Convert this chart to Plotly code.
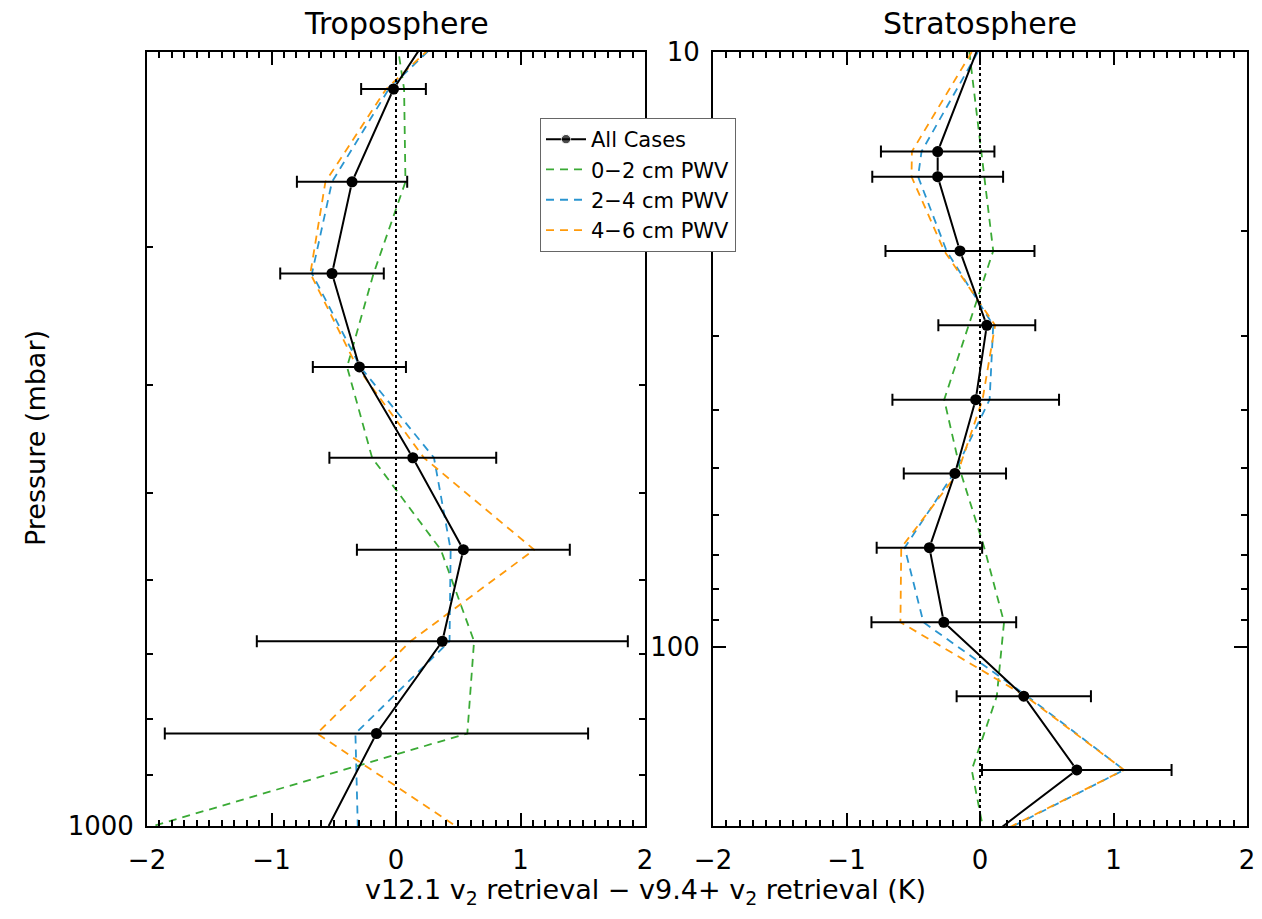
import plotly.graph_objects as go

# Temperature-difference profile (v12.1 minus v9.4+ v2 retrievals) on a shared pressure grid
pressure = [10, 14.7, 16.2, 21.6, 28.8, 38.4, 51.1, 68.1, 90.9, 121, 161, 200,
            216, 262, 317, 385, 465, 563, 681, 825, 1000]
all_cases = [-0.027, -0.317, -0.317, -0.150, 0.051, -0.032, -0.188, -0.379, -0.271, 0.328, 0.725, 0.18,
             -0.02, -0.353, -0.514, -0.294, 0.135, 0.541, 0.372, -0.157, -0.541]
all_cases_err = [None, 0.425, 0.49, 0.558, 0.363, 0.624, 0.383, 0.395, 0.542, 0.503, 0.71, None,
                 0.26, 0.443, 0.416, 0.374, 0.67, 0.855, 1.49, 1.70, None]
pwv_0_2 = [-0.08, 0.011, 0.032, 0.099, -0.085, -0.268, -0.142, 0.032, 0.18, 0.126, -0.062, 0.02,
           0.065, 0.076, -0.18, -0.393, -0.192, 0.36, 0.627, 0.573, -1.95]
pwv_2_4 = [-0.016, -0.438, -0.464, -0.25, 0.099, 0.072, -0.196, -0.564, -0.424, 0.354, 1.079, 0.25,
           -0.058, -0.514, -0.675, -0.286, 0.305, 0.439, 0.43, -0.326, -0.307]
pwv_4_6 = [-0.062, -0.51, -0.513, -0.268, 0.113, 0.019, -0.169, -0.59, -0.596, 0.341, 1.079, 0.24,
           -0.079, -0.567, -0.688, -0.313, 0.224, 1.11, 0.117, -0.635, 0.48]

panel_titles = ["Troposphere", "Stratosphere"]
x_title = "v12.1 v<sub>2</sub> retrieval \u2212 v9.4+ v<sub>2</sub> retrieval (K)"
y_title = "Pressure (mbar)"

FONT = "DejaVu Sans"
W, H = 1262, 919
TICK_FONT = dict(family=FONT, size=26, color="black")

series = [
    ("0\u22122 cm PWV", pwv_0_2, "#3aaa35"),
    ("2\u22124 cm PWV", pwv_2_4, "#2a95d0"),
    ("4\u22126 cm PWV", pwv_4_6, "#ff9a0a"),
]

marked = [i for i, e in enumerate(all_cases_err) if e is not None]
marker_sizes = [11 if e is not None else 0 for e in all_cases_err]

fig = go.Figure()

for k, (xa, ya) in enumerate([("x", "y"), ("x2", "y2")]):
    first = k == 0
    for rank, (name, vals, col) in enumerate(series, start=2):
        fig.add_trace(go.Scatter(
            x=vals, y=pressure, mode="lines", name=name,
            line=dict(color=col, width=1.8, dash="8px,6px"),
            xaxis=xa, yaxis=ya, showlegend=first, legendrank=rank,
        ))
    fig.add_trace(go.Scatter(
        x=all_cases, y=pressure, mode="lines+markers", name="All Cases",
        line=dict(color="black", width=2),
        marker=dict(color="black", size=marker_sizes),
        xaxis=xa, yaxis=ya, showlegend=first, legendrank=1,
    ))
    fig.add_trace(go.Scatter(
        x=[all_cases[i] for i in marked], y=[pressure[i] for i in marked],
        mode="markers", marker=dict(color="black", size=11),
        error_x=dict(type="data", array=[all_cases_err[i] for i in marked],
                     color="black", thickness=2, width=6),
        xaxis=xa, yaxis=ya, showlegend=False,
    ))
    # zero reference line
    fig.add_shape(type="line", xref=xa, yref=f"{ya} domain", x0=0, x1=0, y0=0, y1=1,
                  line=dict(color="black", width=2, dash="dot"))

x_common = dict(
    range=[-2, 2], dtick=1, tick0=0, ticks="inside", ticklen=13, tickwidth=2,
    tickcolor="black", showline=True, linecolor="black", linewidth=2,
    mirror="ticks", showgrid=False, zeroline=False, tickfont=TICK_FONT,
    ticklabelstandoff=10, automargin=False,
    minor=dict(dtick=0.1, ticks="inside", ticklen=6, tickwidth=1.5, tickcolor="black", showgrid=False),
)
y_common = dict(
    type="log", ticks="inside", ticklen=13, tickwidth=2, tickcolor="black",
    showline=True, linecolor="black", linewidth=2, mirror="ticks",
    showgrid=False, zeroline=False, tickfont=TICK_FONT, ticklabelstandoff=6,
    automargin=False,
)

dom_left = [147 / W, 645 / W]
dom_right = [713 / W, 1247 / W]
dom_y = [1 - 826 / H, 1 - 52 / H]

fig.update_layout(
    template="none",
    width=W, height=H,
    margin=dict(l=0, r=0, t=0, b=0, autoexpand=False),
    paper_bgcolor="white", plot_bgcolor="white",
    font=dict(family=FONT, color="black"),
    xaxis=dict(domain=dom_left, anchor="y", **x_common),
    xaxis2=dict(domain=dom_right, anchor="y2", **x_common),
    yaxis=dict(domain=dom_y, anchor="x", range=[3, 2.30103],
               tickmode="array", tickvals=[1000], ticktext=["1000"],
               minor=dict(tickmode="array", tickvals=[300, 400, 500, 600, 700, 800, 900],
                          ticks="inside", ticklen=6, tickwidth=1.5, tickcolor="black", showgrid=False),
               **y_common),
    yaxis2=dict(domain=dom_y, anchor="x2", range=[2.30103, 1],
                tickmode="array", tickvals=[10, 100], ticktext=["10", "100"],
                minor=dict(tickmode="array", tickvals=[20, 30, 40, 50, 60, 70, 80, 90, 200],
                           ticks="inside", ticklen=6, tickwidth=1.5, tickcolor="black", showgrid=False),
                **y_common),
    legend=dict(
        x=540 / W, y=1 - 118 / H, xanchor="left", yanchor="top",
        bgcolor="white", bordercolor="#666666", borderwidth=1,
        font=dict(family=FONT, size=21, color="black"),
        tracegroupgap=0, itemwidth=40,
    ),
    showlegend=True,
)

annotations = [
    dict(text=panel_titles[0], x=396 / W, y=1 - 24 / H, xref="paper", yref="paper",
         xanchor="center", yanchor="middle", showarrow=False, font=dict(family=FONT, size=30)),
    dict(text=panel_titles[1], x=980 / W, y=1 - 24 / H, xref="paper", yref="paper",
         xanchor="center", yanchor="middle", showarrow=False, font=dict(family=FONT, size=30)),
    dict(text=x_title, x=645 / W, y=1 - 891 / H, xref="paper", yref="paper",
         xanchor="center", yanchor="middle", showarrow=False, font=dict(family=FONT, size=27)),
    dict(text=y_title, x=35 / W, y=1 - 438 / H, xref="paper", yref="paper",
         xanchor="center", yanchor="middle", showarrow=False, textangle=-90,
         font=dict(family=FONT, size=27)),
]
fig.update_layout(annotations=annotations)

fig.write_html("out.html")
